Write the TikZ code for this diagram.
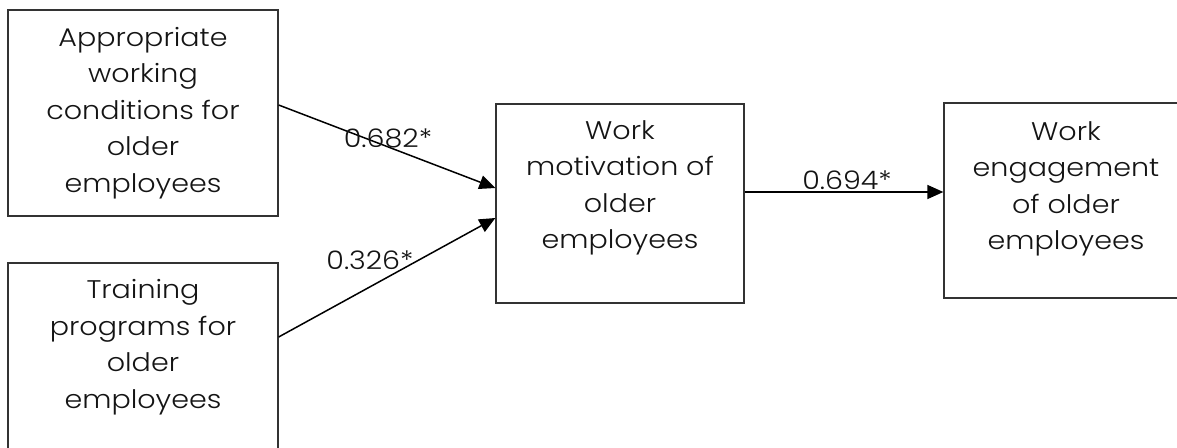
\documentclass[tikz,border=0pt]{standalone}
\usepackage{fontspec}
\setmainfont{Poppins}[UprightFont=* Light,FakeStretch=1.12]
\usetikzlibrary{arrows.meta,calc}
\begin{document}
\begin{tikzpicture}[x=1pt,y=1pt,
  box/.style={draw=black!80,line width=1.3pt,inner sep=0pt},
  txt/.style={align=center,font=\fontsize{25.5}{36.5}\selectfont,inner sep=0pt,text=black!92},
  coef/.style={font=\fontsize{25.5}{30}\selectfont,inner sep=0pt,text=black!92},
  arr/.style={draw=black,line width=1.5pt,-{Triangle[length=16pt,width=14pt]}}]
\useasboundingbox (0,0) rectangle (1177,-447);
\clip (0,0) rectangle (1177,-447);
% boxes
\node[box,minimum width=270,minimum height=206] (cond) at (143,-113) {};
\node[box,minimum width=270,minimum height=197] (train) at (143,-361.5) {};
\node[box,minimum width=248,minimum height=199] (mot) at (620,-203.5) {};
\node[box,minimum width=244,minimum height=195] (eng) at (1066,-200.5) {};
% box texts
\node[txt] (condtxt) at (143,-113) {Appropriate\\working\\conditions for\\older\\employees};
\node[txt] (traintxt) at (143,-347) {Training\\programs for\\older\\employees};
\node[txt] (mottxt) at (620,-188) {Work\\motivation of\\older\\employees};
\node[txt] (engtxt) at (1066,-189) {Work\\engagement\\of older\\employees};
% paths
\draw[arr] ([yshift=8pt]cond.east) -- ([yshift=15.5pt]mot.west);
\draw[arr] ([yshift=24.5pt]train.east) -- ([yshift=-14.5pt]mot.west);
\draw[arr] ([yshift=11.5pt]mot.east) -- ([yshift=8.5pt]eng.west);
% path coefficients
\node[coef] (c1) at (388,-138) {0.682*};
\node[coef] (c2) at (370,-260) {0.326*};
\node[coef] (c3) at (847,-180) {0.694*};
\end{tikzpicture}
\end{document}
